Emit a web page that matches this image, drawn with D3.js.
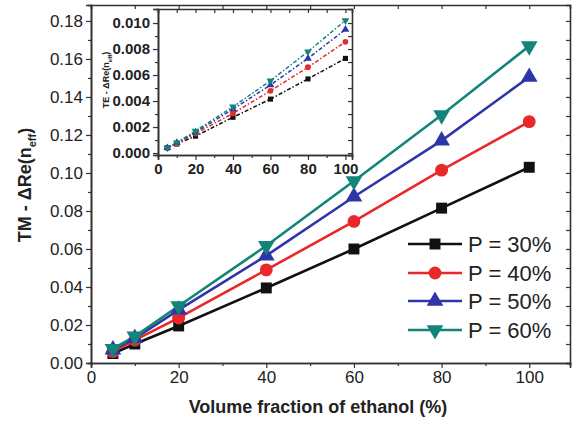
<!DOCTYPE html>
<html>
<head>
<meta charset="utf-8">
<script src="https://cdn.jsdelivr.net/npm/d3@7"></script>
<style>
  body { margin: 0; background: #fff; }
  text { font-family: "Liberation Sans", Arial, sans-serif; fill: #222; }
</style>
</head>
<body>
<div id="chart"></div>
<script>
// data
var fractions = [5, 10, 20, 40, 60, 80, 100];
var seriesNames = ["P = 30%", "P = 40%", "P = 50%", "P = 60%"];
var tmP30 = [0.005, 0.010, 0.0195, 0.0395, 0.060, 0.0815, 0.103];
var tmP40 = [0.006, 0.012, 0.0237, 0.049, 0.0745, 0.1015, 0.127];
var tmP50 = [0.007, 0.013, 0.028, 0.0565, 0.0875, 0.117, 0.1505];
var tmP60 = [0.0075, 0.014, 0.030, 0.0617, 0.0958, 0.1305, 0.1668];
var teP30 = [0.0004, 0.0007, 0.0013, 0.00275, 0.00415, 0.0057, 0.00728];
var teP40 = [0.0004, 0.0007, 0.0015, 0.00305, 0.00479, 0.0066, 0.00856];
var teP50 = [0.0004, 0.0008, 0.0016, 0.00338, 0.00523, 0.00728, 0.0095];
var teP60 = [0.0004, 0.0008, 0.0017, 0.00356, 0.00556, 0.0078, 0.0102];
var xTicks = [0, 20, 40, 60, 80, 100];
var yTicks = [0, 0.02, 0.04, 0.06, 0.08, 0.10, 0.12, 0.14, 0.16, 0.18];
var insetYTicks = [0, 0.002, 0.004, 0.006, 0.008, 0.010];

var colors = ["#111111", "#e8282b", "#2e35a8", "#138479"];
var symbols = [d3.symbolSquare, d3.symbolCircle, d3.symbolTriangle, d3.symbolTriangle];
var tmData = [tmP30, tmP40, tmP50, tmP60];
var teData = [teP30, teP40, teP50, teP60];

var svg = d3.select("#chart").append("svg").attr("width", 573).attr("height", 424);
svg.append("rect").attr("width", 573).attr("height", 424).attr("fill", "#fff");

//main scales
var x = d3.scaleLinear().domain([0, 109.3]).range([91, 570]);
var y = d3.scaleLinear().domain([0, 0.1884]).range([363, 5]);

function frame(g, xs, ys, xMajor, xMinor, yMajor, yMinor, fmtX, fmtY, fontSize, bold) {
  var x0 = xs.range()[0], x1 = xs.range()[1], y0 = ys.range()[0], y1 = ys.range()[1];
  g.append("rect").attr("x", x0).attr("y", y1).attr("width", x1 - x0).attr("height", y0 - y1)
    .attr("fill", "#fff").attr("stroke", "none");
  // bottom axis (outward ticks)
  var bottom = g.append("g").attr("transform", "translate(0," + y0 + ")")
    .call(d3.axisBottom(xs).tickValues(xMajor).tickSize(5).tickPadding(3).tickFormat(fmtX));
  bottom.append("g").call(d3.axisBottom(xs).tickValues(xMinor).tickSize(3).tickFormat(""));
  // left axis
  var left = g.append("g").attr("transform", "translate(" + x0 + ",0)")
    .call(d3.axisLeft(ys).tickValues(yMajor).tickSize(5).tickPadding(3).tickFormat(fmtY));
  left.append("g").call(d3.axisLeft(ys).tickValues(yMinor).tickSize(3).tickFormat(""));
  // top / right with inward ticks
  var top = g.append("g").attr("transform", "translate(0," + y1 + ")")
    .call(d3.axisBottom(xs).tickValues(xMajor.concat(xMinor)).tickSize(4).tickFormat(""));
  var right = g.append("g").attr("transform", "translate(" + x1 + ",0)")
    .call(d3.axisLeft(ys).tickValues(yMajor.concat(yMinor)).tickSize(4).tickFormat(""));
  [bottom, left, top, right].forEach(function(a) {
    a.selectAll(".domain").attr("stroke", "#333").attr("stroke-width", 1.6);
    a.selectAll("line").attr("stroke", "#333").attr("stroke-width", 1.2);
    a.selectAll("text").style("font-size", fontSize + "px").style("font-weight", bold ? "bold" : "normal")
      .attr("fill", "#222").style("font-family", "'Liberation Sans', Arial, sans-serif");
  });
}

var main = svg.append("g");
frame(main, x, y, xTicks, [10, 30, 50, 70, 90],
  yTicks, [0.01, 0.03, 0.05, 0.07, 0.09, 0.11, 0.13, 0.15, 0.17],
  d3.format("d"), d3.format(".2f"), 17, false);

var line = d3.line().x(function(d, i) { return x(fractions[i]); }).y(function(d) { return y(d); });

tmData.forEach(function(s, k) {
  main.append("path").datum(s).attr("d", line).attr("fill", "none")
    .attr("stroke", colors[k]).attr("stroke-width", 2.6);
});
tmData.forEach(function(s, k) {
  main.selectAll(".m" + k).data(s).enter().append("path")
    .attr("d", d3.symbol().type(symbols[k]).size(k == 1 ? 130 : 120))
    .attr("transform", function(d, i) {
      return "translate(" + x(fractions[i]) + "," + y(d) + ")" + (k == 3 ? " rotate(180)" : "");
    })
    .attr("fill", colors[k]);
});

//axis titles
svg.append("text").attr("x", 318).attr("y", 413).attr("text-anchor", "middle")
  .style("font-size", "18px").style("font-weight", "bold").text("Volume fraction of ethanol (%)");
var yt = svg.append("text").attr("transform", "translate(31,185) rotate(-90)").attr("text-anchor", "middle")
  .style("font-size", "18px").style("font-weight", "bold");
yt.append("tspan").text("TM - \u0394Re(n");
yt.append("tspan").attr("dy", 5).style("font-size", "11px").text("eff");
yt.append("tspan").attr("dy", -5).text(")");

//legend
var legendY = [244, 273, 301, 330];
seriesNames.forEach(function(name, k) {
  var lg = svg.append("g").attr("transform", "translate(0," + legendY[k] + ")");
  lg.append("line").attr("x1", 408).attr("x2", 462).attr("stroke", colors[k]).attr("stroke-width", 2.6);
  lg.append("path").attr("d", d3.symbol().type(symbols[k]).size(k == 1 ? 130 : 120))
    .attr("transform", "translate(435,0)" + (k == 3 ? " rotate(180)" : "")).attr("fill", colors[k]);
  lg.append("text").attr("x", 468).attr("y", 8).style("font-size", "22px").text(name);
});

//inset
var ix = d3.scaleLinear().domain([0, 103.5]).range([158, 352]);
var iy = d3.scaleLinear().domain([-0.00015, 0.01108]).range([155, 9]);
var inset = svg.append("g");
frame(inset, ix, iy, xTicks, [10, 30, 50, 70, 90],
  insetYTicks, [0.001, 0.003, 0.005, 0.007, 0.009],
  d3.format("d"), d3.format(".3f"), 15, true);

var iline = d3.line().x(function(d, i) { return ix(fractions[i]); }).y(function(d) { return iy(d); });
teData.forEach(function(s, k) {
  inset.append("path").datum(s).attr("d", iline).attr("fill", "none")
    .attr("stroke", colors[k]).attr("stroke-width", 1.5).attr("stroke-dasharray", "4,2,1.5,2");
  inset.selectAll(".im" + k).data(s).enter().append("path")
    .attr("d", d3.symbol().type(symbols[k]).size(26))
    .attr("transform", function(d, i) {
      return "translate(" + ix(fractions[i]) + "," + iy(d) + ")" + (k == 3 ? " rotate(180)" : "");
    })
    .attr("fill", colors[k]);
});
var it = svg.append("text").attr("transform", "translate(109,80) rotate(-90)").attr("text-anchor", "middle")
  .style("font-size", "9px").style("font-weight", "bold");
it.append("tspan").text("TE - \u0394Re(n");
it.append("tspan").attr("dy", 3).style("font-size", "6px").text("eff");
it.append("tspan").attr("dy", -3).text(")");
</script>
</body>
</html>
